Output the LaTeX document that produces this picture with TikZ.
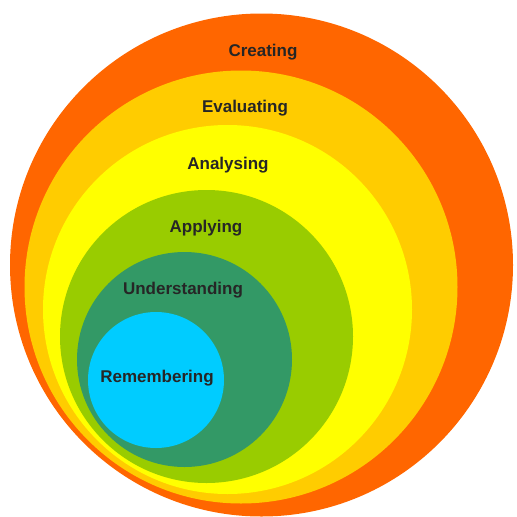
\documentclass[tikz,border=0pt]{standalone}
\usepackage{fontspec}
\setmainfont{Liberation Sans}
\definecolor{creatingc}{HTML}{FF6600}
\definecolor{evaluatingc}{HTML}{FFCC00}
\definecolor{analysingc}{HTML}{FFFF00}
\definecolor{applyingc}{HTML}{99CC00}
\definecolor{understandingc}{HTML}{339966}
\definecolor{rememberingc}{HTML}{00CCFF}
\begin{document}
\begin{tikzpicture}[x=1pt,y=-1pt,
    ring/.style={circle,inner sep=0pt,draw=none},
    ringtext/.style={font=\bfseries\fontsize{17}{20}\selectfont,text=black!85}]
    \useasboundingbox (0,0) rectangle (517,517);

    \node[ring,fill=creatingc,minimum size=503pt] (creating) at (261.5,265) {};
    \node[ring,fill=evaluatingc,minimum size=433pt] (evaluating) at (241,287) {};
    \node[ring,fill=analysingc,minimum size=369pt] (analysing) at (227.5,309.5) {};
    \node[ring,fill=applyingc,minimum size=293pt] (applying) at (206.5,336.5) {};
    \node[ring,fill=understandingc,minimum size=215pt] (understanding) at (184.5,359.5) {};
    \node[ring,fill=rememberingc,minimum size=136pt] (remembering) at (156,380) {};

    \node[ringtext] (tcreating) at (263,52) {Creating};
    \node[ringtext] (tevaluating) at (245,108) {Evaluating};
    \node[ringtext] (tanalysing) at (228,165) {Analysing};
    \node[ringtext] (tapplying) at (206,228) {Applying};
    \node[ringtext] (tunderstanding) at (183,290) {Understanding};
    \node[ringtext] (tremembering) at (157,378) {Remembering};
\end{tikzpicture}
\end{document}
